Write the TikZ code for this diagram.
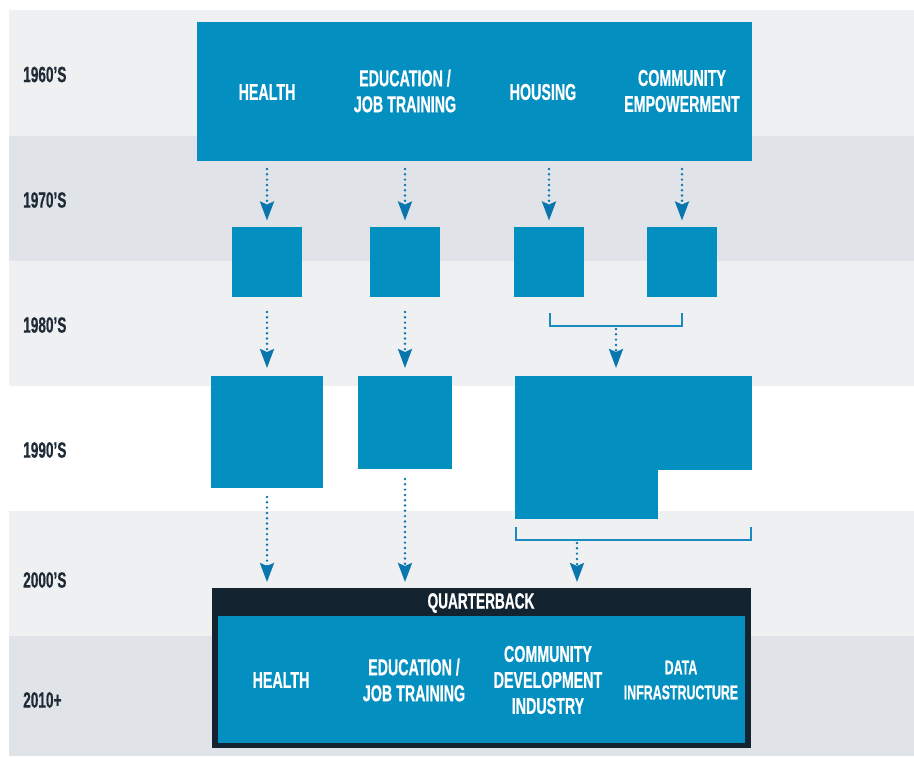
\documentclass[tikz,border=0pt]{standalone}
\usepackage{fontspec}
\newfontfamily\cf[FakeStretch=0.62,FakeBold=0.6]{Liberation Sans Bold}
\usetikzlibrary{arrows.meta}
\definecolor{bandA}{HTML}{EFF0F2}
\definecolor{bandB}{HTML}{E0E4E8}
\definecolor{boxblue}{HTML}{038FC0}
\definecolor{arrblue}{HTML}{0A76AE}
\definecolor{brkblue}{HTML}{1A8AC0}
\definecolor{navy}{HTML}{13232F}
\definecolor{yeartext}{HTML}{1E2B36}
\begin{document}
\begin{tikzpicture}[x=1pt,y=-1pt,
  blk/.style={fill=boxblue, draw=none, inner sep=0pt, outer sep=0pt, anchor=north west},
  sq/.style={blk, minimum width=70pt, minimum height=70pt},
  lbl/.style={text=white, align=center, inner sep=0pt, font=\cf\fontsize{23}{26}\selectfont},
  slbl/.style={text=white, align=center, inner sep=0pt, font=\cf\fontsize{20}{25}\selectfont},
  year/.style={text=yeartext, anchor=west, inner sep=0pt, font=\cf\fontsize{22}{24}\selectfont},
  arr/.style={draw=arrblue, line width=2.7pt, line cap=round, dash pattern=on 0pt off 5.3pt,
    -{Stealth[length=19pt,width=14pt,inset=3pt]}},
  brk/.style={draw=brkblue, line width=1.5pt}]
\useasboundingbox (0,0) rectangle (914,756);
\fill[white] (0,0) rectangle (914,756);
% bands
\fill[bandA] (9,10) rectangle (914,135.5);
\fill[bandB] (9,135.5) rectangle (914,261);
\fill[bandA] (9,261) rectangle (914,386);
\fill[white] (9,386) rectangle (914,511);
\fill[bandA] (9,511) rectangle (914,636);
\fill[bandB] (9,636) rectangle (914,756);
% year labels
\node[year] (y60) at (23,74.5) {1960’S};
\node[year] (y70) at (23,200) {1970’S};
\node[year] (y80) at (23,325) {1980’S};
\node[year] (y90) at (23,450) {1990’S};
\node[year] (y00) at (23,580) {2000’S};
\node[year] (y10) at (23,700) {2010+};
% 1960s box
\node[blk, minimum width=555pt, minimum height=139pt] (top) at (197,22) {};
\node[lbl] (tH) at (267,92) {HEALTH};
\node[lbl] (tE) at (405,91) {EDUCATION /\\JOB TRAINING};
\node[lbl] (tHo) at (543,92) {HOUSING};
\node[lbl] (tC) at (682,91) {COMMUNITY\\EMPOWERMENT};
% 1970s boxes
\node[sq] (s1) at (232,227) {};
\node[sq] (s2) at (370,227) {};
\node[sq] (s3) at (514,227) {};
\node[sq] (s4) at (647,227) {};
% 1990s boxes
\node[blk, minimum width=112pt, minimum height=112pt] (n1) at (211,376) {};
\node[blk, minimum width=94pt, minimum height=93pt] (n2) at (358,376) {};
\node[blk, minimum width=237pt, minimum height=94pt] (n3) at (515,376) {};
\node[blk, minimum width=143pt, minimum height=49pt] (n3b) at (515,469.5) {};
% quarterback
\node[blk, fill=navy, minimum width=539pt, minimum height=160pt] (qb) at (212,588) {};
\node[blk, minimum width=527pt, minimum height=127pt] (qin) at (218,616) {};
\node[lbl, font=\cf\fontsize{22}{24}\selectfont] (qt) at (481,603) {QUARTERBACK};
\node[lbl] (bH) at (281,680) {HEALTH};
\node[lbl] (bE) at (414,680) {EDUCATION /\\JOB TRAINING};
\node[lbl] (bC) at (548,680) {COMMUNITY\\DEVELOPMENT\\INDUSTRY};
\node[slbl] (bD) at (681,680) {DATA\\INFRASTRUCTURE};
% arrows 1960s -> 1970s
\foreach \s in {s1,s2,s3,s4}
  \draw[arr, shorten <=8pt, shorten >=6.5pt] (\s.north |- top.south) -- (\s.north);
% arrows 1970s -> 1990s
\draw[arr, shorten <=15pt, shorten >=8pt] (s1.south) -- (s1.south |- n1.north);
\draw[arr, shorten <=15pt, shorten >=8pt] (s2.south) -- (s2.south |- n2.north);
% bracket 1
\coordinate (b1l) at (550,313);
\coordinate (b1r) at (682,313);
\coordinate (b1m) at (616,326);
\draw[brk] (b1l) -- (550,326) -| (b1r);
\draw[arr, shorten <=3pt, shorten >=8pt] (b1m) -- (b1m |- n3.north);
% arrows 1990s -> quarterback
\draw[arr, shorten <=9pt, shorten >=6pt] (s1.south |- n1.south) -- (s1.south |- qb.north);
\draw[arr, shorten <=10pt, shorten >=6pt] (s2.south |- n2.south) -- (s2.south |- qb.north);
% bracket 2
\coordinate (b2l) at (516,527);
\coordinate (b2r) at (751,527);
\coordinate (b2m) at (577,540);
\draw[brk] (b2l) -- (516,540) -| (b2r);
\draw[arr, shorten <=3pt, shorten >=6pt] (b2m) -- (b2m |- qb.north);
\end{tikzpicture}
\end{document}
